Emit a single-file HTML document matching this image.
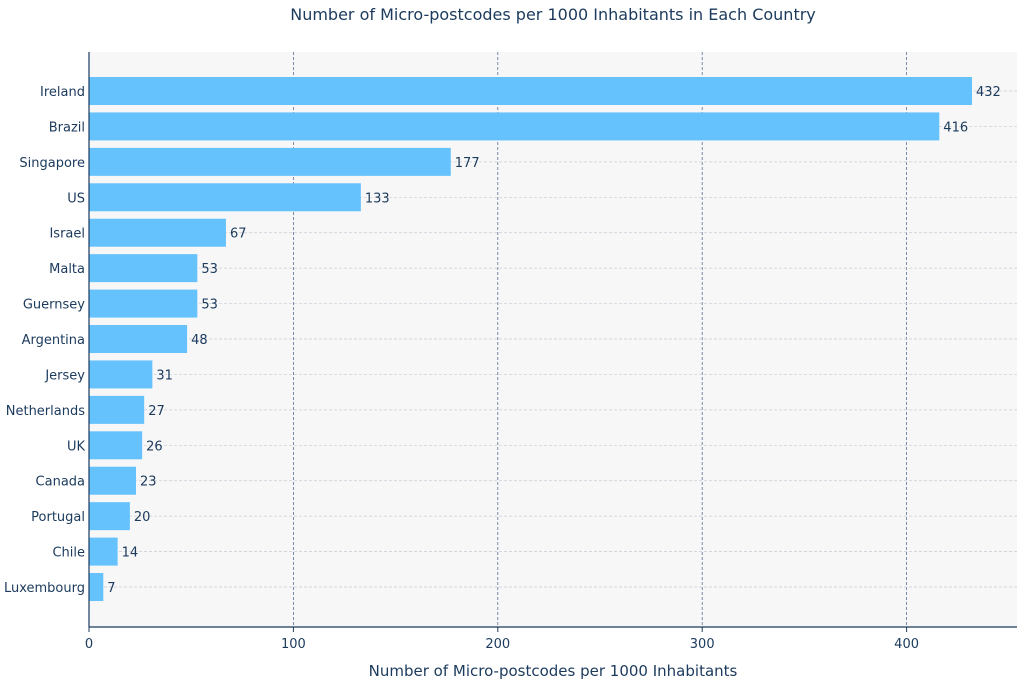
<!DOCTYPE html>
<html><head><meta charset="utf-8">
<style>
html,body{margin:0;padding:0;background:#fff;}
svg{display:block;font-family:"DejaVu Sans","Liberation Sans",sans-serif;}
</style></head>
<body>
<svg id="chart" width="1024" height="686">
  <text x="553" y="20" text-anchor="middle" font-size="16" fill="#1b3a5c">Number of Micro-postcodes per 1000 Inhabitants in Each Country</text>
  <rect x="89" y="52" width="928" height="575" fill="#f7f7f7"/>
  <g id="grid"></g>
  <g id="bars"></g>
  <line x1="89" y1="52" x2="89" y2="627" stroke="#1b3a5c" stroke-width="1.2"/>
  <line x1="89" y1="627" x2="1017" y2="627" stroke="#1b3a5c" stroke-width="1.2"/>
  <g id="xticks"></g>
  <text x="553" y="676" text-anchor="middle" font-size="15" fill="#1b3a5c">Number of Micro-postcodes per 1000 Inhabitants</text>
</svg>
<script>
const categories = ["Ireland","Brazil","Singapore","US","Israel","Malta","Guernsey","Argentina","Jersey","Netherlands","UK","Canada","Portugal","Chile","Luxembourg"];
const values = [432,416,177,133,67,53,53,48,31,27,26,23,20,14,7];
const tickValues = [0,100,200,300,400];

const NS = "http://www.w3.org/2000/svg";
const x0 = 89, pxPer = 2.044;
const xs = v => x0 + v * pxPer;
const yTop = 91, step = 35.43, barH = 28;
const ys = i => yTop + i * step;
function mk(tag, attrs, parent){const e=document.createElementNS(NS,tag);for(const k in attrs)e.setAttribute(k,attrs[k]);parent.appendChild(e);return e;}
const grid=document.getElementById('grid'), bars=document.getElementById('bars'), xt=document.getElementById('xticks');

tickValues.forEach(v=>{
  if(v>0){
    const l=mk('line',{x1:xs(v),x2:xs(v),y1:52,y2:627,stroke:'#5a6f9a','stroke-width':0.8,'stroke-dasharray':'3,2'},grid);
    
    
  }
  const tk=mk('line',{x1:xs(v),x2:xs(v),y1:627,y2:632,stroke:'#1b3a5c'},xt);
  
  
  const t=mk('text',{x:xs(v),y:648,'text-anchor':'middle','font-size':13,fill:'#1b3a5c'},xt);
  t.textContent=v;
  
  
});

categories.forEach((c,i)=>{
  const y=ys(i);
  const g=mk('line',{x1:89,x2:1017,y1:y,y2:y,stroke:'#c8ccd6','stroke-width':0.7,'stroke-dasharray':'3,2'},grid);
  
  
  const r=mk('rect',{x:x0,y:y-barH/2,width:xs(values[i])-x0,height:barH,fill:'#66c2fd'},bars);
  
  
  const lab=mk('text',{x:85,y:y+5,'text-anchor':'end','font-size':13,fill:'#1b3a5c'},bars);
  lab.textContent=c;
  
  
  const val=mk('text',{x:xs(values[i])+4,y:y+5,'font-size':13,fill:'#1b3a5c'},bars);
  val.textContent=values[i];
  
  
});
</script>
</body></html>
